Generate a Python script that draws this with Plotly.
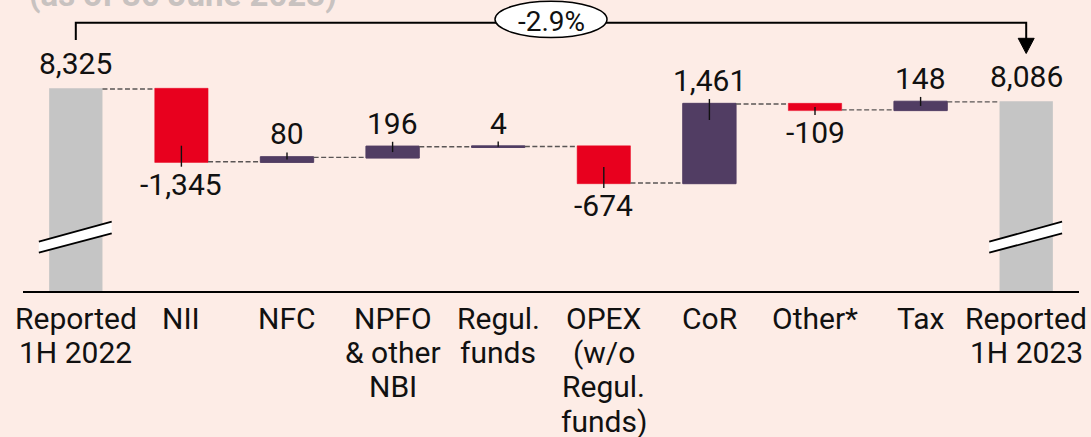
import plotly.graph_objects as go

# ---------------- data ----------------
categories = ["Reported<br>1H 2022", "NII", "NFC", "NPFO<br>& other<br>NBI", "Regul.<br>funds",
              "OPEX<br>(w/o<br>Regul.<br>funds)", "CoR", "Other*", "Tax", "Reported<br>1H 2023"]
measures = ["absolute", "relative", "relative", "relative", "relative",
            "relative", "relative", "relative", "relative", "total"]
values = [8325, -1345, 80, 196, 4, -674, 1461, -109, 148, 8086]
change_label = "-2.9%"
subtitle = "(as of 30 June 2023)"

# ---------------- styling / layout constants ----------------
BG = "#fdece6"
RED = "#e8001e"
PURPLE = "#513d63"
GREY = "#c5c5c5"
FONT = "Roboto"
W, H = 1091, 437
ML, MR, MT, MB = 23, 12, 0, 146
PLOT_H = H - MT - MB            # 291 px
Y_MIN = 4588
UPP = 18.5                      # data units per pixel
Y_MAX = Y_MIN + PLOT_H * UPP

n = len(categories)
xs = list(range(n))


def py(p):
    """pixel row (from top of page) -> paper y"""
    return (PLOT_H - (p - MT)) / PLOT_H


# running totals
starts, ends = [], []
run = 0
for m, v in zip(measures, values):
    if m == "absolute":
        s, e = 0, v
    elif m == "total":
        s, e = 0, run
    else:
        s, e = run, run + v
    run = e
    starts.append(s)
    ends.append(e)

fig = go.Figure()
fig.add_trace(go.Waterfall(
    x=xs,
    y=[v if m != "total" else 0 for m, v in zip(measures, values)],
    measure=measures,
    width=0.505,
    increasing=dict(marker=dict(color=PURPLE, line=dict(color=PURPLE, width=1))),
    decreasing=dict(marker=dict(color=RED, line=dict(color=RED, width=0.5))),
    totals=dict(marker=dict(color=GREY, line=dict(width=0))),
    connector=dict(mode="between", line=dict(color="#5a5555", width=1.4, dash="5px,2.5px")),
    hoverinfo="skip",
    showlegend=False,
))

# leader ticks
tx, ty = [], []
for i, (m, v) in enumerate(zip(measures, values)):
    if m != "relative":
        continue
    e = ends[i]
    h_px = abs(v) / UPP
    inward = min(16, h_px / 2) * UPP
    out = 5 * UPP
    if v >= 0:
        tx += [i, i, None]
        ty += [e + out, e - inward, None]
    else:
        tx += [i, i, None]
        ty += [e - out, e + inward, None]
fig.add_trace(go.Scatter(x=tx, y=ty, mode="lines", line=dict(color="#111111", width=1.4),
                         hoverinfo="skip", showlegend=False))

annotations = []
# value labels
for i, (m, v) in enumerate(zip(measures, values)):
    e = ends[i]
    if m != "relative":
        annotations.append(dict(x=i, y=e, xref="x", yref="y", text=f"{e:,}", showarrow=False,
                                yanchor="bottom", yshift=6,
                                font=dict(family=FONT, size=30, color="#111111")))
    elif v >= 0:
        annotations.append(dict(x=i, y=e, xref="x", yref="y", text=f"{v:,}", showarrow=False,
                                yanchor="bottom", yshift=4,
                                font=dict(family=FONT, size=30, color="#111111")))
    else:
        annotations.append(dict(x=i, y=e, xref="x", yref="y", text=f"{v:,}", showarrow=False,
                                yanchor="top", yshift=-3,
                                font=dict(family=FONT, size=30, color="#111111")))

# category labels, one annotation per line to keep tight line spacing
for i, c in enumerate(categories):
    for k, line in enumerate(c.split("<br>")):
        annotations.append(dict(x=i, y=0, xref="x", yref="paper", text=line, showarrow=False,
                                yanchor="top", yshift=-8 - 34.2 * k,
                                font=dict(family=FONT, size=30, color="#111111")))

# change label inside ellipse
annotations.append(dict(x=(n - 1) / 2, y=py(21.1), xref="x", yref="paper", text=change_label,
                        showarrow=False, yanchor="middle",
                        font=dict(family=FONT, size=28, color="#111111")))

# clipped subtitle at top
annotations.append(dict(x=(26.7 - ML) / (W - ML - MR), y=py(16), xref="paper", yref="paper",
                        text=f"<b>{subtitle}</b>", showarrow=False, xanchor="left", yanchor="bottom",
                        font=dict(family=FONT, size=33, color="#c8c2c0")))

shapes = []
# break marks on total bars
for i, m in enumerate(measures):
    if m == "relative":
        continue
    x0, x1 = i - 0.35, i + 0.34
    shapes.append(dict(type="path", xref="x", yref="paper",
                       path=f"M {x0},{py(241.7)} L {x1},{py(221.7)} L {x1},{py(233.3)} L {x0},{py(252.7)} Z",
                       fillcolor="white", line=dict(width=0), layer="above"))
    shapes.append(dict(type="line", xref="x", yref="paper", x0=x0, x1=x1, y0=py(241.7), y1=py(221.7),
                       line=dict(color="black", width=1.8), layer="above"))
    shapes.append(dict(type="line", xref="x", yref="paper", x0=x0, x1=x1, y0=py(252.7), y1=py(233.3),
                       line=dict(color="black", width=1.8), layer="above"))

# bracket from first to last bar
ytop = py(22.7)
shapes.append(dict(type="path", xref="x", yref="paper",
                   path=f"M 0,{py(40)} L 0,{ytop} L {n - 1},{ytop} L {n - 1},{py(39)}",
                   line=dict(color="black", width=2), layer="above"))
ah = 8 / ((W - ML - MR) / n)
shapes.append(dict(type="path", xref="x", yref="paper",
                   path=f"M {n - 1 - ah},{py(38.3)} L {n - 1 + ah},{py(38.3)} L {n - 1},{py(53.5)} Z",
                   fillcolor="black", line=dict(color="black", width=1), layer="above"))
erx = 56 / ((W - ML - MR) / n)
shapes.append(dict(type="circle", xref="x", yref="paper",
                   x0=(n - 1) / 2 - erx, x1=(n - 1) / 2 + erx, y0=py(37.5), y1=py(1.2),
                   fillcolor="white", line=dict(color="black", width=1.5), layer="above"))

fig.update_layout(
    width=W, height=H,
    margin=dict(l=ML, r=MR, t=MT, b=MB, pad=0),
    paper_bgcolor=BG, plot_bgcolor=BG,
    xaxis=dict(range=[-0.5, n - 0.5], showgrid=False, zeroline=False, showticklabels=False,
               ticks="", showline=True, linecolor="black", linewidth=2, fixedrange=True),
    yaxis=dict(range=[Y_MIN, Y_MAX], showgrid=False, zeroline=False, showticklabels=False,
               ticks="", showline=False, fixedrange=True),
    annotations=annotations,
    shapes=shapes,
    font=dict(family=FONT),
)

fig.write_html("out.html", config={"displayModeBar": False},
               post_script="document.body.style.margin='0';document.body.style.overflow='hidden';"
                           "document.body.style.background='" + BG + "';")
